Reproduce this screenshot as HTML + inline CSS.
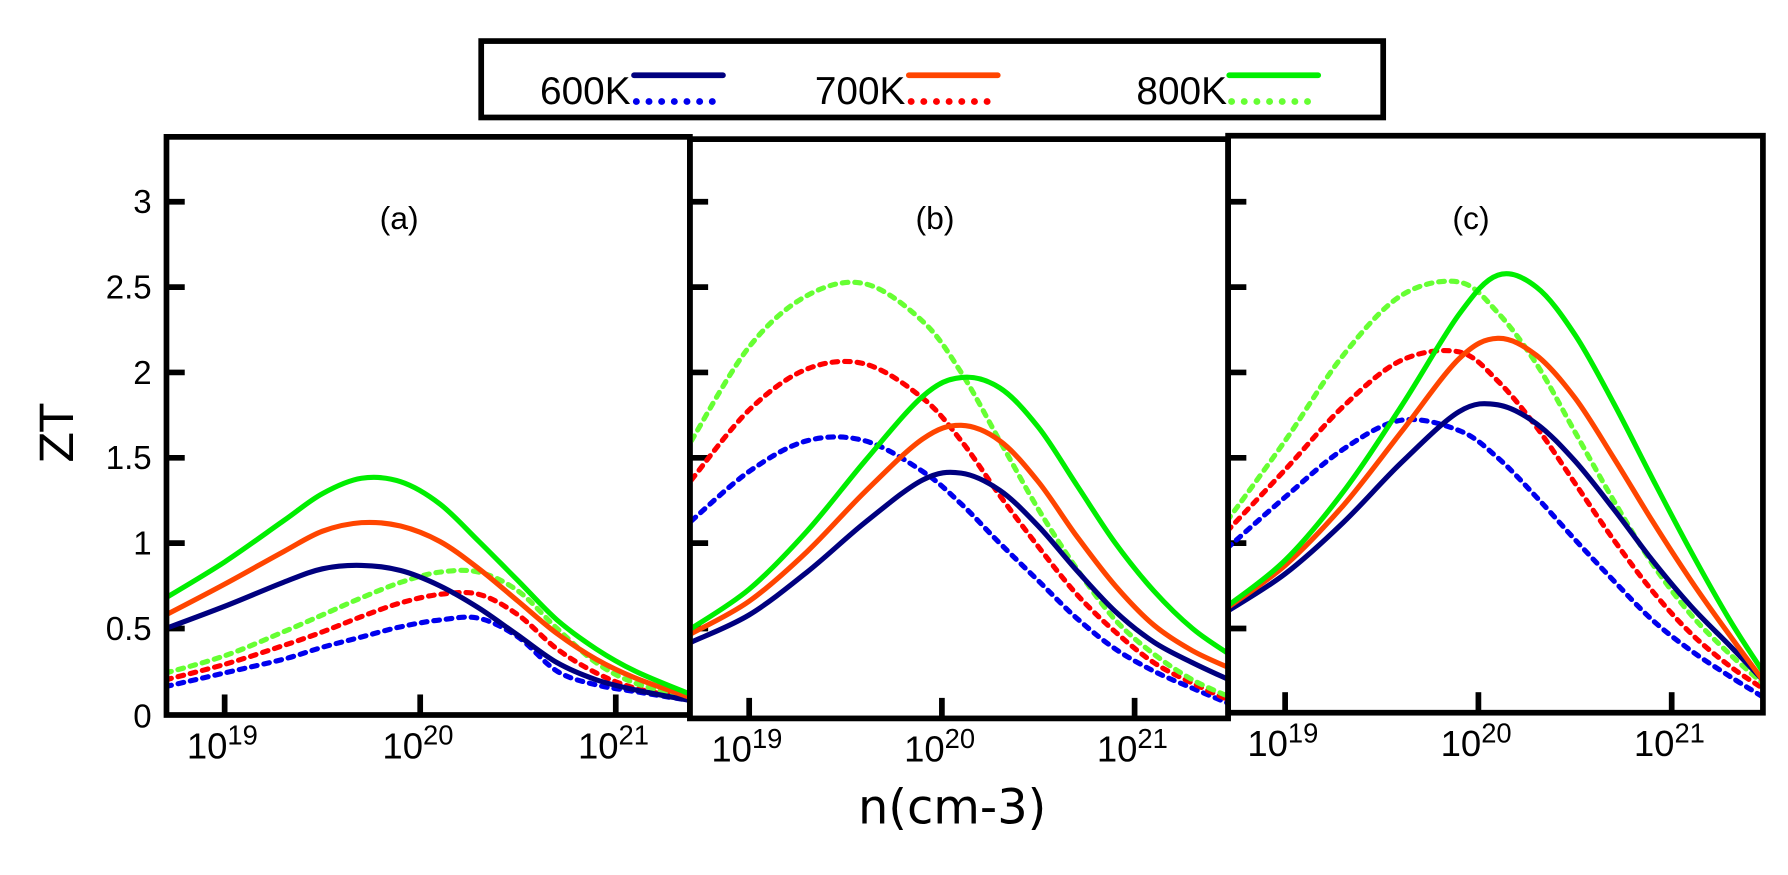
<!DOCTYPE html>
<html><head><meta charset="utf-8">
<style>
html,body{margin:0;padding:0;background:#fff;}
svg{display:block;font-family:"Liberation Sans","DejaVu Sans",sans-serif;}
</style></head>
<body>
<svg id="chart" width="1788" height="875" viewBox="0 0 1568 767.3" xmlns="http://www.w3.org/2000/svg">
<g id="legend">
  <rect x="422" y="36" width="791" height="67" fill="#fff" stroke="#000" stroke-width="5"/>
</g>
<g id="panels"></g>
<text transform="translate(64,380) rotate(-90)" text-anchor="middle" font-size="40" font-family="DejaVu Sans, sans-serif">ZT</text>
<text x="835" y="722" text-anchor="middle" font-size="42" font-family="DejaVu Sans, sans-serif">n(cm-3)</text>
</svg>
<script>
const NS="http://www.w3.org/2000/svg";
const svg=document.getElementById('chart');
const panelsG=document.getElementById('panels');
const legendG=document.getElementById('legend');

const temps=["600K","700K","800K"];
const yTicks=[0,0.5,1,1.5,2,2.5,3];
const yTickLabels=["0","0.5","1","1.5","2","2.5","3"];
const xDecades=[19,20,21];
const panelNames=["(a)","(b)","(c)"];

const logNa=[18.7,19,19.3,19.5,19.7,19.9,20.1,20.3,20.5,20.7,20.9,21.1,21.37];
const a600s=[0.50,0.63,0.77,0.85,0.87,0.84,0.75,0.62,0.46,0.30,0.20,0.14,0.08];
const a700s=[0.58,0.76,0.95,1.07,1.12,1.10,1.01,0.85,0.66,0.47,0.32,0.21,0.10];
const a800s=[0.68,0.89,1.13,1.29,1.38,1.36,1.23,1.01,0.78,0.55,0.38,0.25,0.12];
const a600d=[0.16,0.24,0.32,0.39,0.45,0.51,0.55,0.56,0.45,0.25,0.17,0.13,0.08];
const a700d=[0.20,0.29,0.40,0.48,0.57,0.65,0.70,0.70,0.58,0.38,0.24,0.15,0.09];
const a800d=[0.24,0.34,0.48,0.58,0.68,0.77,0.83,0.83,0.72,0.50,0.30,0.18,0.10];

const logNb=[18.7,19,19.3,19.6,19.9,20.1,20.3,20.5,20.7,20.9,21.1,21.3,21.49];
const b600s=[0.42,0.58,0.83,1.12,1.37,1.41,1.31,1.10,0.84,0.60,0.42,0.30,0.20];
const b700s=[0.47,0.66,0.95,1.30,1.61,1.69,1.60,1.36,1.04,0.75,0.52,0.37,0.27];
const b800s=[0.50,0.73,1.07,1.48,1.86,1.97,1.91,1.68,1.34,1.00,0.72,0.50,0.35];
const b600d=[1.13,1.42,1.60,1.60,1.42,1.23,1.00,0.78,0.56,0.38,0.25,0.15,0.06];
const b700d=[1.37,1.78,2.02,2.05,1.85,1.60,1.28,0.98,0.70,0.48,0.30,0.18,0.08];
const b800d=[1.60,2.15,2.45,2.52,2.30,2.00,1.60,1.20,0.85,0.55,0.35,0.20,0.10];

const logNc=[18.7,19,19.3,19.6,19.9,20.1,20.3,20.5,20.7,20.9,21.1,21.3,21.47];
const c600s=[0.60,0.82,1.12,1.47,1.77,1.81,1.70,1.48,1.20,0.90,0.63,0.40,0.20];
const c700s=[0.62,0.87,1.22,1.65,2.08,2.20,2.10,1.85,1.50,1.13,0.78,0.46,0.20];
const c800s=[0.63,0.90,1.30,1.80,2.34,2.57,2.50,2.22,1.82,1.38,0.95,0.55,0.25];
const c600d=[0.97,1.27,1.55,1.72,1.66,1.50,1.27,1.02,0.78,0.55,0.37,0.22,0.10];
const c700d=[1.07,1.43,1.80,2.07,2.12,1.95,1.68,1.35,1.02,0.72,0.47,0.28,0.15];
const c800d=[1.13,1.60,2.10,2.45,2.53,2.35,2.05,1.65,1.25,0.88,0.58,0.35,0.18];

const solidColors=["#00007f","#ff4500","#00ee00"];
const dotColors=["#0000ee","#ff0000","#66ff33"];

const panels=[
 {left:146,right:605,top:120,bottom:627,x19:197,dec:171.5,logN:logNa,solid:[a600s,a700s,a800s],dot:[a600d,a700d,a800d],labelX:350},
 {left:605,right:1077,top:122,bottom:630,x19:657,dec:169,logN:logNb,solid:[b600s,b700s,b800s],dot:[b600d,b700d,b800d],labelX:820},
 {left:1077,right:1546,top:119,bottom:625,x19:1127,dec:169.5,logN:logNc,solid:[c600s,c700s,c800s],dot:[c600d,c700d,c800d],labelX:1290}
];
const Y0=626, YS=149.7;
function yScale(v){return Y0-YS*v;}

function mk(tag,attrs,parent){const e=document.createElementNS(NS,tag);for(const k in attrs)e.setAttribute(k,attrs[k]);parent.appendChild(e);return e;}
function smoothPath(pts){
  let d="M"+pts[0][0].toFixed(1)+","+pts[0][1].toFixed(1);
  for(let i=0;i<pts.length-1;i++){
    const p0=pts[Math.max(0,i-1)],p1=pts[i],p2=pts[i+1],p3=pts[Math.min(pts.length-1,i+2)];
    const c1=[p1[0]+(p2[0]-p0[0])/6,p1[1]+(p2[1]-p0[1])/6];
    const c2=[p2[0]-(p3[0]-p1[0])/6,p2[1]-(p3[1]-p1[1])/6];
    d+="C"+c1[0].toFixed(1)+","+c1[1].toFixed(1)+" "+c2[0].toFixed(1)+","+c2[1].toFixed(1)+" "+p2[0].toFixed(1)+","+p2[1].toFixed(1);
  }
  return d;
}

const letters=["a","b","c"];
panels.forEach((p,pi)=>{
  const g=mk('g',{},panelsG);
  
  
  const xScale=L=>p.x19+p.dec*(L-19);
  const cid='clip'+pi;
  const cp=mk('clipPath',{id:cid},g);
  mk('rect',{x:p.left,y:p.top,width:p.right-p.left,height:p.bottom-p.top},cp);
  yTicks.forEach((v,i)=>{
    if(v!==0){
      const t=mk('line',{x1:p.left,x2:p.left+16,y1:yScale(v),y2:yScale(v),stroke:'#000','stroke-width':5},g);
      
      
    }
    if(pi===0){
      const tx=mk('text',{x:133,y:yScale(v)+(v===0?12:10),'text-anchor':'end','font-size':29},g);
      tx.textContent=yTickLabels[i];
      
      
    }
  });
  xDecades.forEach(D=>{
    const x=xScale(D);
    const t=mk('line',{x1:x,x2:x,y1:p.bottom,y2:p.bottom-18,stroke:'#000','stroke-width':5},g);
    
    
    const tx=mk('text',{x:x-2,y:p.bottom+38,'text-anchor':'middle','font-size':32},g);
    
    
    const s1=mk('tspan',{},tx); s1.textContent='10';
    const s2=mk('tspan',{dy:-12,'font-size':24},tx); s2.textContent=String(D);
  });
  const cg=mk('g',{'clip-path':'url(#'+cid+')'},g);
  [0,1,2].forEach(ti=>{
    const pts=p.logN.map((L,i)=>[xScale(L),yScale(p.dot[ti][i])]);
    const e=mk('path',{d:smoothPath(pts),fill:'none',stroke:dotColors[ti],'stroke-width':4.5,'stroke-dasharray':'5 6','stroke-linecap':'round'},cg);
    
    
  });
  [0,1,2].forEach(ti=>{
    const pts=p.logN.map((L,i)=>[xScale(L),yScale(p.solid[ti][i])]);
    const e=mk('path',{d:smoothPath(pts),fill:'none',stroke:solidColors[ti],'stroke-width':4.5},cg);
    
    
  });
  const fr=mk('rect',{x:p.left,y:p.top,width:p.right-p.left,height:p.bottom-p.top,fill:'none',stroke:'#000','stroke-width':5},g);
  
  
  const lb=mk('text',{x:p.labelX,y:201,'text-anchor':'middle','font-size':28},g);
  lb.textContent=panelNames[pi];
  
  
});

const legTextX=[553,794,1076], legLineX=[556,797,1078];
temps.forEach((t,i)=>{
  const tx=mk('text',{x:legTextX[i],y:91,'text-anchor':'end','font-size':34,'font-family':'Liberation Sans Narrow, Liberation Sans, sans-serif'},legendG);
  tx.textContent=t;
  
  
  const l1=mk('line',{x1:legLineX[i],x2:legLineX[i]+78,y1:66,y2:66,stroke:solidColors[i],'stroke-width':5,'stroke-linecap':'round'},legendG);
  
  
  const l2=mk('line',{x1:legLineX[i]+2,x2:legLineX[i]+78,y1:89,y2:89,stroke:dotColors[i],'stroke-width':6,'stroke-dasharray':'0.1 11','stroke-linecap':'round'},legendG);
  
  
});
</script>
</body></html>
